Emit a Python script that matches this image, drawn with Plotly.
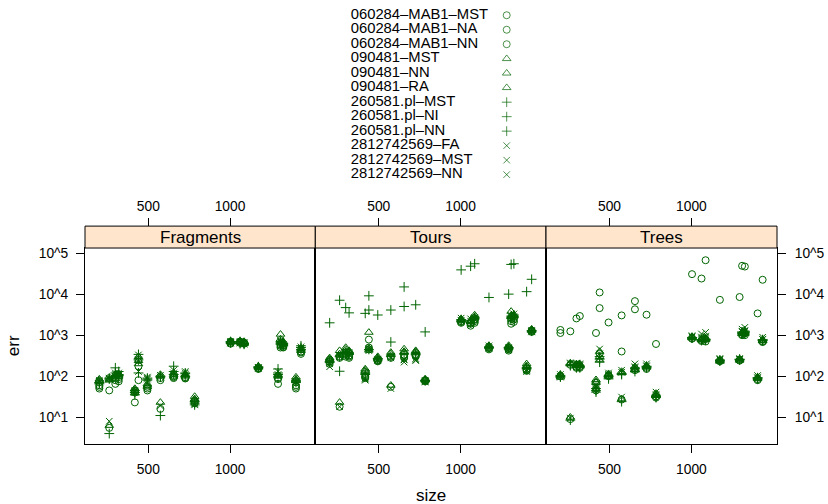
import plotly.graph_objects as go

# ---------------- data ----------------
sizes = [330, 359, 378, 389, 446, 460, 496, 554, 620, 684, 741,
         1005, 1089, 1127, 1272, 1503, 1535, 1571, 1750, 1826]

series_names = ["060284–MAB1–MST", "060284–MAB1–NA", "060284–MAB1–NN",
                "090481–MST", "090481–NN", "090481–RA",
                "260581.pl–MST", "260581.pl–NI", "260581.pl–NN",
                "2812742569–FA", "2812742569–MST", "2812742569–NN"]
series_symbols = ["circle-open"] * 3 + ["triangle-up-open"] * 3 + \
                 ["cross-thin-open"] * 3 + ["x-thin-open"] * 3
panel_names = ["Fragments", "Tours", "Trees"]

x_tick_vals = [500, 1000]
y_tick_vals = [10, 100, 1000, 10000, 100000]
y_tick_text = ["10^1", "10^2", "10^3", "10^4", "10^5"]

# Fragments panel
frag_mab1_mst = [60, 45, 65, 75, 23, 175, 45, 80, 95, 88, 23, 650, 700, 620, 150, 65, 500, 520, 50, 350]
frag_mab1_na = [55, 90, 90, 95, 40, 80, 55, 90, 100, 95, 25, 700, 650, 660, 160, 85, 550, 560, 60, 380]
frag_mab1_nn = [50, 5.5, 80, 85, 45, 250, 50, 16, 90, 90, 22, 620, 680, 640, 155, 90, 600, 500, 55, 400]
frag_090481_mst = [85, 85, 110, 115, 50, 240, 60, 100, 120, 110, 32, 700, 720, 650, 175, 110, 1050, 650, 95, 480]
frag_090481_nn = [80, 80, 100, 110, 45, 300, 55, 110, 110, 105, 28, 720, 680, 700, 170, 100, 800, 600, 85, 450]
frag_090481_ra = [75, 6.3, 95, 100, 40, 200, 65, 23, 100, 100, 27, 680, 700, 620, 165, 105, 700, 700, 80, 420]
frag_260581_mst = [70, 90, 160, 110, 45, 340, 90, 95, 175, 115, 22, 680, 650, 600, 160, 150, 600, 560, 75, 550]
frag_260581_ni = [65, 85, 120, 130, 40, 250, 85, 100, 130, 120, 20, 650, 700, 640, 165, 120, 650, 600, 70, 500]
frag_260581_nn = [70, 4, 100, 105, 35, 120, 80, 11, 110, 100, 24, 700, 620, 620, 170, 110, 700, 620, 80, 450]
frag_2812_fa = [75, 85, 120, 110, 45, 330, 90, 105, 140, 130, 20, 660, 700, 640, 165, 130, 700, 600, 72, 520]
frag_2812_mst = [80, 90, 110, 120, 40, 130, 95, 95, 120, 120, 22, 700, 640, 600, 160, 110, 750, 550, 75, 480]
frag_2812_nn = [72, 8, 100, 105, 42, 250, 85, 19, 105, 110, 21, 640, 660, 660, 155, 100, 550, 580, 70, 460]

# Tours panel
tour_mab1_mst = [230, 280, 330, 300, 100, 780, 240, 300, 330, 320, 75, 2000, 1700, 2000, 450, 420, 1900, 2100, 140, 1200]
tour_mab1_na = [250, 300, 300, 320, 95, 500, 230, 280, 280, 330, 80, 2200, 1900, 2200, 480, 450, 2200, 2400, 150, 1300]
tour_mab1_nn = [200, 18, 350, 280, 90, 450, 250, 55, 300, 300, 78, 2100, 2000, 2400, 500, 480, 2500, 2600, 135, 1250]
tour_090481_mst = [280, 420, 500, 400, 150, 1170, 300, 380, 460, 420, 85, 2400, 2300, 3100, 560, 560, 3800, 3200, 200, 1400]
tour_090481_nn = [260, 350, 450, 380, 140, 480, 280, 350, 400, 400, 80, 2500, 2200, 2800, 520, 500, 3000, 2900, 180, 1350]
tour_090481_ra = [240, 23, 400, 420, 130, 430, 260, 60, 380, 380, 82, 2300, 2100, 2600, 540, 520, 2800, 3000, 170, 1300]
tour_260581_mst = [220, 132, 380, 360, 120, 4100, 270, 680, 5000, 350, 80, 2400, 2300, 2700, 520, 480, 2900, 3100, 160, 1300]
tour_260581_ni = [2000, 7100, 4700, 3500, 3400, 9100, 3100, 4100, 15000, 5500, 1200, 39000, 48000, 55000, 8300, 10000, 53000, 55000, 11500, 23000]
tour_260581_nn = [230, 300, 360, 340, 110, 450, 250, 300, 350, 330, 78, 2200, 2000, 2500, 500, 500, 2600, 2800, 150, 1250]
tour_2812_fa = [170, 300, 350, 380, 80, 450, 260, 280, 220, 250, 72, 2600, 2500, 2700, 550, 500, 3000, 3300, 130, 1300]
tour_2812_mst = [200, 320, 330, 350, 85, 420, 240, 300, 250, 240, 75, 2300, 2200, 2400, 500, 470, 2700, 2800, 140, 1250]
tour_2812_nn = [220, 18, 380, 330, 90, 480, 250, 50, 260, 270, 78, 2200, 1800, 2600, 480, 450, 2500, 2600, 145, 1200]

# Trees panel
tree_mab1_mst = [1130, 190, 170, 160, 50, 4570, 100, 400, 4270, 150, 32, 850, 760, 800, 230, 250, 1000, 1100, 85, 700]
tree_mab1_na = [1340, 1240, 2560, 2930, 1130, 11000, 2040, 3030, 6750, 3150, 610, 30700, 24000, 67000, 7260, 8500, 49000, 47000, 3390, 22400]
tree_mab1_nn = [100, 9, 160, 170, 45, 350, 105, 27, 140, 160, 30, 820, 720, 700, 240, 240, 1050, 1000, 80, 680]
tree_090481_mst = [110, 210, 200, 190, 82, 400, 115, 130, 170, 180, 38, 900, 800, 850, 250, 265, 1150, 1200, 95, 760]
tree_090481_nn = [105, 200, 190, 180, 75, 300, 110, 120, 150, 170, 35, 880, 780, 820, 240, 250, 1100, 1150, 90, 740]
tree_090481_ra = [95, 10, 180, 200, 70, 250, 100, 28, 140, 165, 34, 860, 760, 780, 230, 245, 1080, 1100, 88, 720]
tree_260581_mst = [100, 180, 170, 175, 41, 300, 86, 110, 160, 160, 33, 870, 780, 800, 240, 260, 1200, 1250, 85, 780]
tree_260581_ni = [95, 190, 180, 160, 45, 220, 95, 115, 130, 175, 30, 850, 740, 760, 250, 255, 1150, 1200, 90, 760]
tree_260581_nn = [105, 8.5, 160, 170, 50, 260, 100, 24, 150, 170, 32, 880, 760, 780, 235, 250, 1100, 1150, 92, 740]
tree_2812_fa = [110, 200, 210, 200, 54, 460, 120, 140, 200, 200, 41, 970, 1070, 1170, 270, 270, 1400, 1550, 104, 890]
tree_2812_mst = [100, 210, 200, 190, 60, 350, 110, 125, 170, 180, 36, 900, 900, 950, 260, 260, 1250, 1300, 95, 800]
tree_2812_nn = [95, 9.5, 190, 180, 50, 280, 105, 31, 160, 170, 34, 920, 850, 900, 250, 255, 1200, 1250, 90, 780]

panel_data = {
    "Fragments": [frag_mab1_mst, frag_mab1_na, frag_mab1_nn, frag_090481_mst, frag_090481_nn, frag_090481_ra,
                  frag_260581_mst, frag_260581_ni, frag_260581_nn, frag_2812_fa, frag_2812_mst, frag_2812_nn],
    "Tours": [tour_mab1_mst, tour_mab1_na, tour_mab1_nn, tour_090481_mst, tour_090481_nn, tour_090481_ra,
              tour_260581_mst, tour_260581_ni, tour_260581_nn, tour_2812_fa, tour_2812_mst, tour_2812_nn],
    "Trees": [tree_mab1_mst, tree_mab1_na, tree_mab1_nn, tree_090481_mst, tree_090481_nn, tree_090481_ra,
              tree_260581_mst, tree_260581_ni, tree_260581_nn, tree_2812_fa, tree_2812_mst, tree_2812_nn],
}

# ---------------- styling / layout ----------------
W, H = 828, 504
GREEN = "#006400"
FONT = "Liberation Sans, Arial, Helvetica, sans-serif"
marker_sizes = {"circle-open": 7, "triangle-up-open": 7.5, "cross-thin-open": 7, "x-thin-open": 6.5}


def px_x(p):
    return p / W


def px_y(p):
    return 1 - p / H


panel_px = [(85, 315.3), (315.3, 546), (546, 777)]
plot_top, plot_bot = 247, 444
strip_top = 225
y_dom = [px_y(plot_bot), px_y(plot_top)]
x_range = [2.4657, 3.3143]
y_range = [0.342, 5.124]

fig = go.Figure()

for pi, pname in enumerate(panel_names):
    xa = "x" if pi == 0 else f"x{pi + 1}"
    ya = "y" if pi == 0 else f"y{pi + 1}"
    for si, sname in enumerate(series_names):
        sym = series_symbols[si]
        fig.add_trace(go.Scatter(
            x=sizes, y=panel_data[pname][si], mode="markers", name=sname,
            xaxis=xa, yaxis=ya, showlegend=False, cliponaxis=False,
            marker=dict(symbol=sym, size=marker_sizes[sym], color=GREEN,
                        line=dict(color=GREEN, width=1)),
        ))
    # empty trace so the top tick axis of this panel is drawn
    fig.add_trace(go.Scatter(x=[], y=[], xaxis=f"x{pi + 4}", yaxis=ya,
                             showlegend=False, hoverinfo="skip"))

# key (text left, symbol right, like lattice's key)
fig.add_trace(go.Scatter(
    x=[0] * len(series_names), y=list(range(len(series_names))), mode="text",
    text=series_names, textposition="middle right",
    textfont=dict(size=14.8, color="black", family=FONT),
    xaxis="x7", yaxis="y4", showlegend=False, cliponaxis=False, hoverinfo="skip"))
fig.add_trace(go.Scatter(
    x=[1] * len(series_names), y=list(range(len(series_names))), mode="markers",
    xaxis="x7", yaxis="y4", showlegend=False, cliponaxis=False, hoverinfo="skip",
    marker=dict(symbol=series_symbols, size=[marker_sizes[s] for s in series_symbols],
                color=GREEN, line=dict(color=GREEN, width=1))))

tickfont = dict(size=13.8, color="black", family=FONT)
layout = dict(
    width=W, height=H, margin=dict(l=0, r=0, t=0, b=0),
    paper_bgcolor="white", plot_bgcolor="white",
    font=dict(family=FONT, color="black"),
    showlegend=False,
)

for pi in range(3):
    dom = [px_x(panel_px[pi][0]), px_x(panel_px[pi][1])]
    sfx = "" if pi == 0 else str(pi + 1)
    layout[f"xaxis{sfx}"] = dict(
        domain=dom, type="log", range=x_range, anchor="y" + sfx,
        tickvals=x_tick_vals, ticktext=[str(v) for v in x_tick_vals],
        ticks="outside", ticklen=8, tickcolor="black", tickwidth=1,
        showline=True, linecolor="black", linewidth=1, mirror=True,
        showgrid=False, zeroline=False, tickfont=tickfont, ticklabelstandoff=4)
    layout[f"xaxis{pi + 4}"] = dict(
        domain=dom, type="log", range=x_range, overlaying="x" + sfx,
        anchor="free", position=px_y(strip_top), side="top",
        tickvals=x_tick_vals, ticktext=[str(v) for v in x_tick_vals],
        ticks="outside", ticklen=8, tickcolor="black", tickwidth=1,
        showline=False, showgrid=False, zeroline=False, tickfont=tickfont,
        ticklabelstandoff=2)
    ydict = dict(
        domain=y_dom, type="log", range=y_range, anchor="x" + sfx,
        showline=True, linecolor="black", linewidth=1, mirror=True,
        showgrid=False, zeroline=False, tickfont=tickfont,
        tickvals=y_tick_vals, ticktext=y_tick_text)
    if pi == 0:
        ydict.update(ticks="outside", ticklen=8, tickcolor="black", side="left",
                     ticklabelstandoff=5)
    elif pi == 2:
        ydict.update(ticks="outside", ticklen=8, tickcolor="black", side="right",
                     ticklabelstandoff=6)
    else:
        ydict.update(ticks="", showticklabels=False)
    layout[f"yaxis{sfx}"] = ydict

layout["xaxis7"] = dict(domain=[px_x(350.7), px_x(506.7)], range=[0, 1], anchor="y4", visible=False)
layout["yaxis4"] = dict(domain=[px_y(173.3), px_y(13.3)], range=[11, 0], anchor="x7", visible=False)

shapes = []
annotations = []
for pi, pname in enumerate(panel_names):
    x0, x1 = panel_px[pi]
    shapes.append(dict(type="rect", xref="paper", yref="paper",
                       x0=px_x(x0), x1=px_x(x1), y0=px_y(plot_top), y1=px_y(strip_top),
                       fillcolor="#ffe5cc", line=dict(color="black", width=1), layer="above"))
    annotations.append(dict(text=pname, xref="paper", yref="paper",
                            x=px_x((x0 + x1) / 2), y=px_y((plot_top + strip_top) / 2),
                            xanchor="center", yanchor="middle", showarrow=False,
                            font=dict(size=17, color="black", family=FONT)))
annotations.append(dict(text="size", xref="paper", yref="paper", x=px_x(431), y=px_y(495),
                        xanchor="center", yanchor="middle", showarrow=False,
                        font=dict(size=17, color="black", family=FONT)))
annotations.append(dict(text="err", xref="paper", yref="paper", x=px_x(13), y=px_y(345.5),
                        xanchor="center", yanchor="middle", showarrow=False, textangle=-90,
                        font=dict(size=17, color="black", family=FONT)))
layout["shapes"] = shapes
layout["annotations"] = annotations

fig.update_layout(**layout)
fig.write_html("out.html", config={"displayModeBar": False},
               post_script="document.body.style.margin='0';document.body.style.padding='0';")
